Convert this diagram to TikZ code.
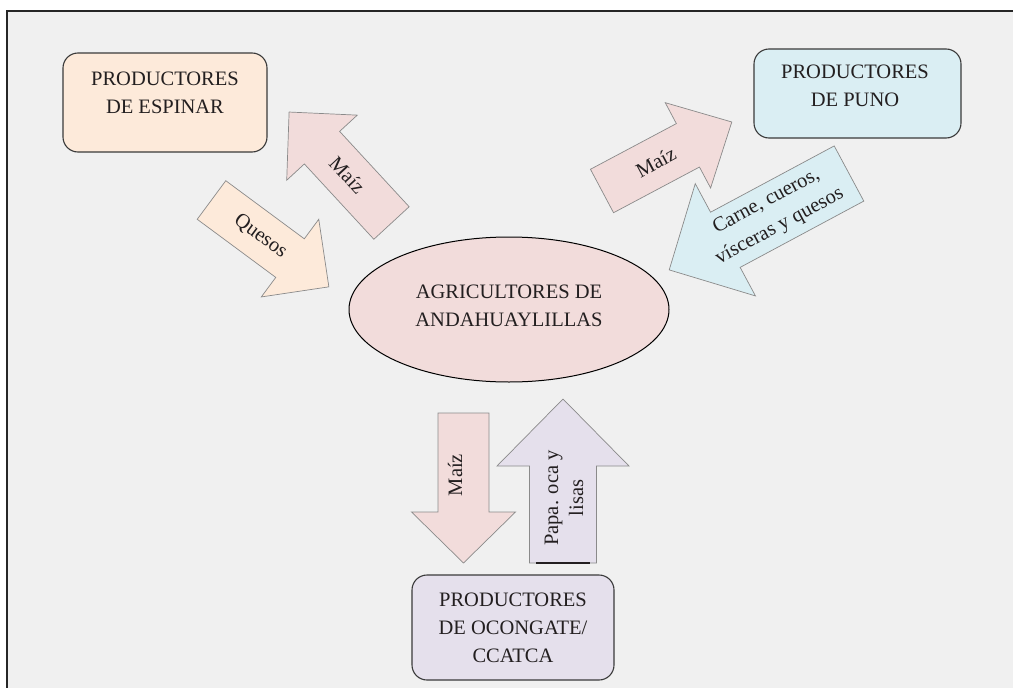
\documentclass[tikz,border=0pt]{standalone}
\usepackage{fontspec}
\setmainfont{Liberation Serif}
\usetikzlibrary{calc,shapes.geometric}
\definecolor{bg}{HTML}{F0F0F0}
\definecolor{peach}{HTML}{FDEADA}
\definecolor{rose}{HTML}{F2DCDB}
\definecolor{sky}{HTML}{DAEEF3}
\definecolor{lilac}{HTML}{E5E0EC}
\definecolor{ink}{HTML}{231F20}
\definecolor{edge}{HTML}{8A8A8A}
\definecolor{boxedge}{HTML}{3A3A3A}
\tikzset{
  txt/.style={font=\fontsize{20.5}{28}\selectfont, text=ink, align=center, inner sep=0pt},
  prodbox/.style={draw=boxedge, line width=1.1pt, rounded corners=15pt},
  blockarr/.style={draw=edge, line width=0.7pt, line join=miter},
}
\begin{document}
\begin{tikzpicture}[x=1pt, y=-1pt]
\useasboundingbox (0,0) rectangle (1013,688);
% page frame
\fill[white] (0,0) rectangle (1013,688);
\draw[fill=bg, draw=black!85, line width=1.5pt] (7,11) rectangle (1030,705);

% boxes
\node[prodbox, fill=peach, minimum width=204pt, minimum height=99pt] (esp) at (165,102.5) {};
\node[txt] (esptxt) at (165,93) {PRODUCTORES\\DE ESPINAR};
\node[prodbox, fill=sky, minimum width=207pt, minimum height=89pt] (pun) at (857.5,93.5) {};
\node[txt] (puntxt) at (855,86) {PRODUCTORES\\DE PUNO};
\node[prodbox, fill=lilac, minimum width=202pt, minimum height=105pt] (oco) at (513,627.5) {};
\node[txt] (ocotxt) at (513,628) {PRODUCTORES\\DE OCONGATE/\\CCATCA};
\node[draw=black, line width=1pt, fill=rose, ellipse, minimum width=320pt, minimum height=145pt, inner sep=0pt] (agr) at (509,309.5) {};
\node[txt] (agrtxt) at (509,306) {AGRICULTORES DE\\ANDAHUAYLILLAS};

% arrow: Maiz to Espinar
\begin{scope}[shift={(391.5,223)}, rotate=132.7]
  \draw[blockarr, fill=rose] (0,-24) -- (102.5,-24) -- (102.5,-48) -- (151,0) -- (102.5,48) -- (102.5,24) -- (0,24) -- cycle;
  \node[txt, rotate=-47.3] (a1) at (65,0) {Maíz};
\end{scope}
% arrow: Quesos from Espinar
\begin{scope}[shift={(211.5,200)}, rotate=-36.5]
  \draw[blockarr, fill=peach] (0,-24) -- (97.7,-24) -- (97.7,-48.3) -- (146,0) -- (97.7,48.3) -- (97.7,24) -- (0,24) -- cycle;
  \node[txt, rotate=-36.5] (a2) at (61,0) {Quesos};
\end{scope}
% arrow: Maiz to Puno
\begin{scope}[shift={(602,191)}, rotate=28]
  \draw[blockarr, fill=rose] (0,-24.6) -- (97.3,-24.6) -- (97.3,-48.3) -- (147,0) -- (97.3,48.3) -- (97.3,24.6) -- (0,24.6) -- cycle;
  \node[txt, rotate=28] (a3) at (61,0) {Maíz};
\end{scope}
% arrow: Carne from Puno
\begin{scope}[shift={(849,173.5)}, rotate=-151.8]
  \draw[blockarr, fill=sky] (0,-31.3) -- (140.3,-31.3) -- (140.3,-63.7) -- (204,0) -- (140.3,63.7) -- (140.3,31.3) -- (0,31.3) -- cycle;
  \node[txt, rotate=28.2] (a4) at (86,0) {Carne, cueros,\\vísceras y quesos};
\end{scope}
% arrow: Maiz down to Ocongate
\begin{scope}[shift={(463.5,413)}, rotate=-90]
  \draw[blockarr, fill=rose] (0,-25.5) -- (99,-25.5) -- (99,-52) -- (150,0) -- (99,52) -- (99,25.5) -- (0,25.5) -- cycle;
\end{scope}
\node[txt, rotate=90] (a5) at (455,475) {Maíz};
% arrow: Papa up from Ocongate
\begin{scope}[shift={(563,563)}, rotate=90]
  \draw[blockarr, fill=lilac] (0,-33.5) -- (97,-33.5) -- (97,-66) -- (164,0) -- (97,66) -- (97,33.5) -- (0,33.5) -- cycle;
\end{scope}
\node[txt, rotate=90, font=\fontsize{20.5}{25}\selectfont] (a6) at (564,498) {Papa. oca y\\lisas};
\coordinate (ul1) at (536,563);
\coordinate (ul2) at (590,563);
\draw[line width=2pt, ink] (ul1) -- (ul2);
\end{tikzpicture}
\end{document}
